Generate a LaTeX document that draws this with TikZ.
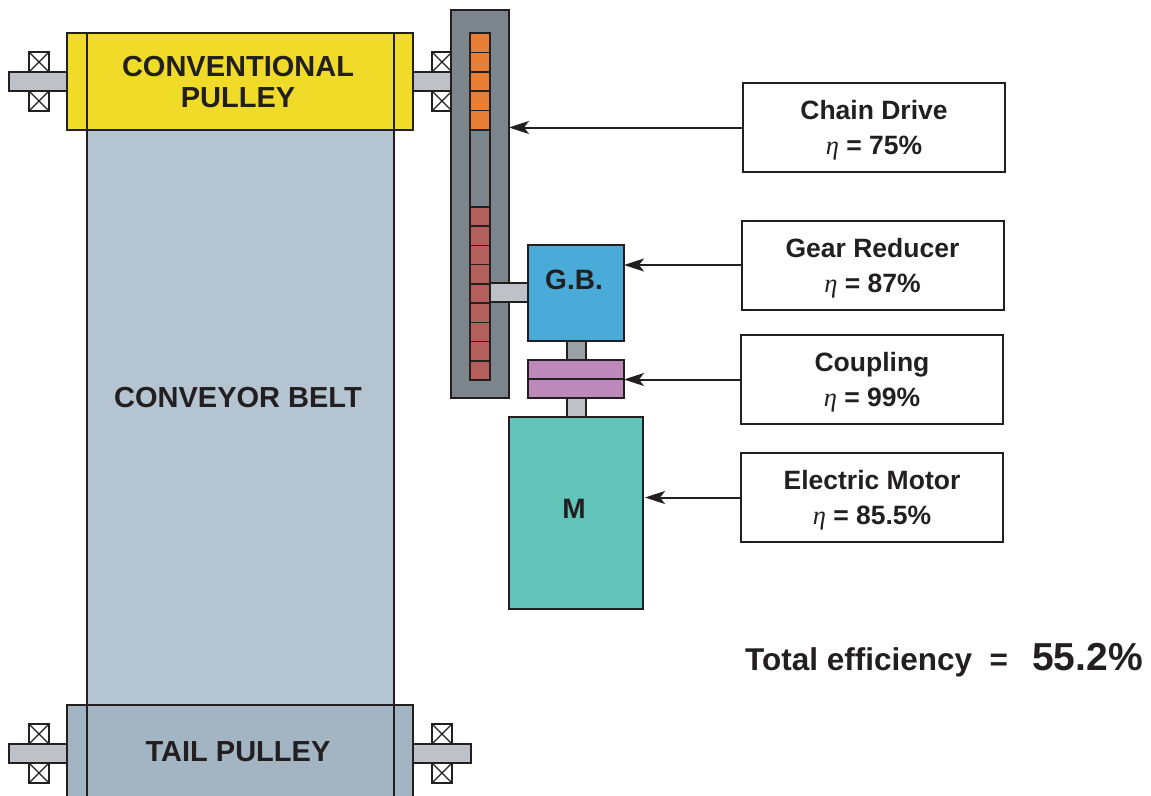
\documentclass[tikz,border=0pt]{standalone}
\usepackage{fontspec}
\setmainfont{Liberation Sans}
\newfontfamily\etafont{Liberation Serif}
\usetikzlibrary{arrows.meta}
\definecolor{lineC}{HTML}{231F20}
\definecolor{yellowC}{HTML}{F0DC28}
\definecolor{beltC}{HTML}{B4C4D1}
\definecolor{tailC}{HTML}{A3B5C3}
\definecolor{housingC}{HTML}{7C858C}
\definecolor{orangeC}{HTML}{E67E33}
\definecolor{redC}{HTML}{B45F5C}
\definecolor{gbC}{HTML}{4BABD8}
\definecolor{coupC}{HTML}{BD89BB}
\definecolor{motorC}{HTML}{62C3B9}
\definecolor{shaftC}{HTML}{BEC1C8}
\definecolor{shaftD}{HTML}{9AA2A8}
\newcommand{\myeta}{{\etafont\itshape\mdseries η}}
\newcommand{\mytopstrut}{\rule{0pt}{25pt}}
\begin{document}
\begin{tikzpicture}[x=1pt,y=-1pt,
  part/.style={draw=lineC, line width=2pt, inner sep=0pt, outer sep=0pt},
  thinpart/.style={draw=lineC, line width=1.5pt},
  lbl/.style={draw=lineC, line width=2pt, inner sep=0pt, outer sep=0pt,
    minimum width=262pt, minimum height=89pt, align=center,
    font=\fontsize{26.5}{35}\selectfont\bfseries, text=lineC},
  bigtxt/.style={font=\fontsize{29}{31}\selectfont\bfseries, text=lineC, align=center},
  arr/.style={draw=lineC, line width=2pt, -{Stealth[length=20pt,width=13pt,inset=5pt]}},
  bearing/.pic={
    \draw[draw=lineC, line width=1.3pt, fill=white] (0,0) rectangle (20,20);
    \draw[draw=lineC, line width=1.1pt] (0,0) -- (20,20) (20,0) -- (0,20);
  }]
\useasboundingbox (0,0) rectangle (1151,795);
\clip (0,0) rectangle (1151,795);

% conveyor belt
\node[part, fill=beltC, minimum width=307pt, minimum height=575pt] (belt) at (240.5,417.5) {};
\node[bigtxt] (belttxt) at (238,398) {CONVEYOR BELT};

% head pulley shafts and bearings
\draw[thinpart, fill=shaftC] (9,72) rectangle (67,91);
\draw[thinpart, fill=shaftC] (413,72) rectangle (470,91);
\pic at (29,52) {bearing};
\pic at (29,91) {bearing};
\pic at (432,52) {bearing};
\pic at (432,91) {bearing};
\node[part, fill=yellowC, minimum width=346pt, minimum height=97pt] (head) at (240,81.5) {};
\node[bigtxt] (headtxt) at (238,82) {CONVENTIONAL\\PULLEY};
\draw[thinpart] (87,33) -- (87,130) (394,33) -- (394,130);

% tail pulley
\draw[thinpart, fill=shaftC] (9,744) rectangle (67,763);
\draw[thinpart, fill=shaftC] (413,744) rectangle (471,763);
\pic at (29,724) {bearing};
\pic at (29,763) {bearing};
\pic at (432,724) {bearing};
\pic at (432,763) {bearing};
\node[part, fill=tailC, minimum width=346pt, minimum height=120pt] (tail) at (240,765) {};
\node[bigtxt] (tailtxt) at (238,752) {TAIL PULLEY};
\draw[thinpart] (87,705) -- (87,800) (394,705) -- (394,800);

% chain drive housing
\node[part, fill=housingC, minimum width=58pt, minimum height=388pt] (housing) at (480,204) {};
\draw[thinpart, fill=housingC] (470,33) rectangle (490,380);
\foreach \i in {0,...,4}
  \draw[thinpart, fill=orangeC] (470,33+\i*19.4) rectangle ++(20,19.4);
\foreach \i in {0,...,8}
  \draw[thinpart, fill=redC] (470,207+\i*19.22) rectangle ++(20,19.22);

% gearbox shaft
\draw[thinpart, fill=shaftC] (490,283) rectangle (528,302);
% gearbox
\node[part, fill=gbC, minimum width=96pt, minimum height=96pt] (gb) at (576,293) {};
\node[font=\fontsize{28}{28}\selectfont\bfseries, text=lineC] (gbtxt) at (574,280) {G.B.};
% shafts around coupling
\draw[thinpart, fill=shaftD] (567,341) rectangle (586,360);
\draw[thinpart, fill=shaftC] (567,398) rectangle (586,418);
% coupling
\node[part, fill=coupC, minimum width=96pt, minimum height=38pt] (coup) at (576,379) {};
\draw[thinpart] (coup.west) -- (coup.east);
% motor
\node[part, fill=motorC, minimum width=134pt, minimum height=192pt] (motor) at (576,513) {};
\node[font=\fontsize{28}{28}\selectfont\bfseries, text=lineC] (mtxt) at (574,509) {M};

% labels
\node[lbl] (lchain) at (874,127.5) {\mytopstrut Chain Drive\\\myeta{} = 75\%};
\node[lbl] (lgear) at (872.5,265) {\mytopstrut Gear Reducer\\\myeta{} = 87\%};
\node[lbl] (lcoup) at (872,379.5) {\mytopstrut Coupling\\\myeta{} = 99\%};
\node[lbl] (lmotor) at (872,497.5) {\mytopstrut Electric Motor\\\myeta{} = 85.5\%};

\draw[arr] (lchain.west) -- (lchain.west -| housing.east);
\draw[arr] (lgear.west) -- (lgear.west -| gb.east);
\draw[arr] (lcoup.west) -- (lcoup.west -| coup.east);
\draw[arr] (lmotor.west) -- ([xshift=2pt]lmotor.west -| motor.east);

% total efficiency
\node[anchor=base west, inner sep=0pt, font=\fontsize{31.5}{31.5}\selectfont\bfseries, text=lineC] (tot) at (745,670) {Total efficiency\ \ =};
\node[anchor=base east, inner sep=0pt, font=\fontsize{39}{39}\selectfont\bfseries, text=lineC] (totval) at (1143,670) {55.2\%};
\end{tikzpicture}
\end{document}
